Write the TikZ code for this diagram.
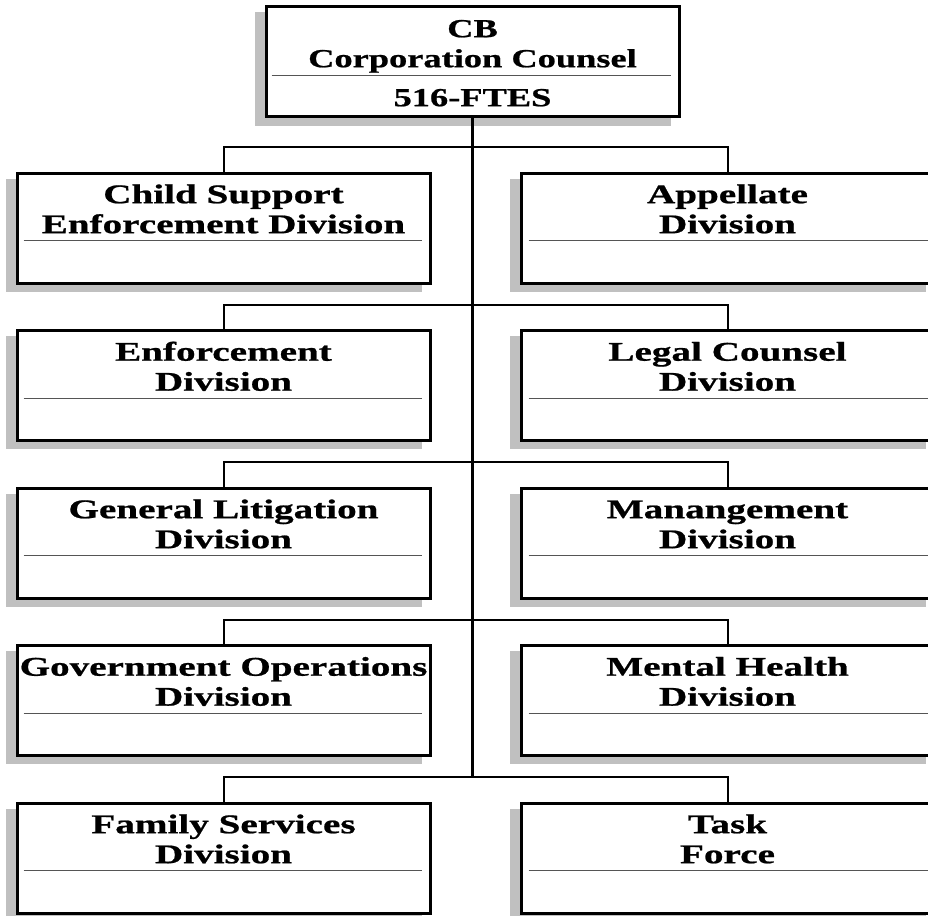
\documentclass[tikz,border=0pt]{standalone}
\usepackage{fontspec}
\newfontfamily\widefont[FakeStretch=1.45,FakeBold=0.8]{Liberation Serif}
\newfontfamily\topfont[FakeStretch=1.4,FakeBold=0.8]{Liberation Serif}
\usetikzlibrary{backgrounds}
\definecolor{shadowgray}{HTML}{C0C0C0}
\definecolor{sepgray}{HTML}{555555}
\tikzset{
  unitbox/.style={draw=black, line width=3pt, fill=white,
    minimum width=413pt, minimum height=110pt, inner sep=0pt},
  boxshadow/.style={fill=shadowgray, draw=none},
  unittitle/.style={font=\widefont\bfseries\fontsize{27}{30}\selectfont,
    align=center, inner sep=0pt, anchor=north},
  toptitle/.style={font=\topfont\bfseries\fontsize{26}{30}\selectfont,
    align=center, inner sep=0pt, anchor=north},
  sepline/.style={line width=1pt, draw=sepgray},
  link/.style={line width=2pt, draw=black},
  trunkline/.style={line width=3pt, draw=black}
}
\newcommand{\strutA}{\rule{0pt}{20pt}}
\begin{document}
\begin{tikzpicture}[x=1pt,y=-1pt]
\useasboundingbox (0,0) rectangle (928,915);
\clip (0,0) rectangle (928,915);

% top box
\node[unitbox] (top) at (472.5,62) {};
\begin{scope}[on background layer]
  \fill[boxshadow] ([shift={(-10,7)}]top.south west) rectangle ([shift={(-10,7)}]top.north east);
\end{scope}
\node[toptitle] (topt) at (472.5,17) {\strutA CB\\Corporation Counsel\\[9pt]516-FTES};
\draw[sepline] ([shift={(7,70)}]top.north west) -- ([shift={(-10,70)}]top.north east);

% rows
\foreach \n/\t/\lt/\rt in {
  1/173/{Child Support\\Enforcement Division}/{Appellate\\Division},
  2/330.5/{Enforcement\\Division}/{Legal Counsel\\Division},
  3/488/{General Litigation\\Division}/{Manangement\\Division},
  4/645.5/{Government Operations\\Division}/{Mental Health\\Division},
  5/803/{Family Services\\Division}/{Task\\Force}}{
  \node[unitbox] (L\n) at (223.5,\t+55) {};
  \node[unitbox] (R\n) at (727.5,\t+55) {};
  \begin{scope}[on background layer]
    \fill[boxshadow] ([shift={(-10,7)}]L\n.south west) rectangle ([shift={(-10,7)}]L\n.north east);
    \fill[boxshadow] ([shift={(-10,7)}]R\n.south west) rectangle ([shift={(-10,7)}]R\n.north east);
  \end{scope}
  \node[unittitle] (L\n t) at (223.5,\t+10) {\strutA\lt};
  \node[unittitle] (R\n t) at (727.5,\t+10) {\strutA\rt};
  \draw[sepline] ([shift={(8,69)}]L\n.north west) -- ([shift={(-10,69)}]L\n.north east);
  \draw[sepline] ([shift={(9,69)}]R\n.north west) -- ([shift={(-8,69)}]R\n.north east);
  \coordinate (J\n) at (472.5,\t-26);
  \draw[link] (L\n.north) |- (J\n) -| (R\n.north);
}
\draw[trunkline] (top.south) -- (J5);
\end{tikzpicture}
\end{document}
